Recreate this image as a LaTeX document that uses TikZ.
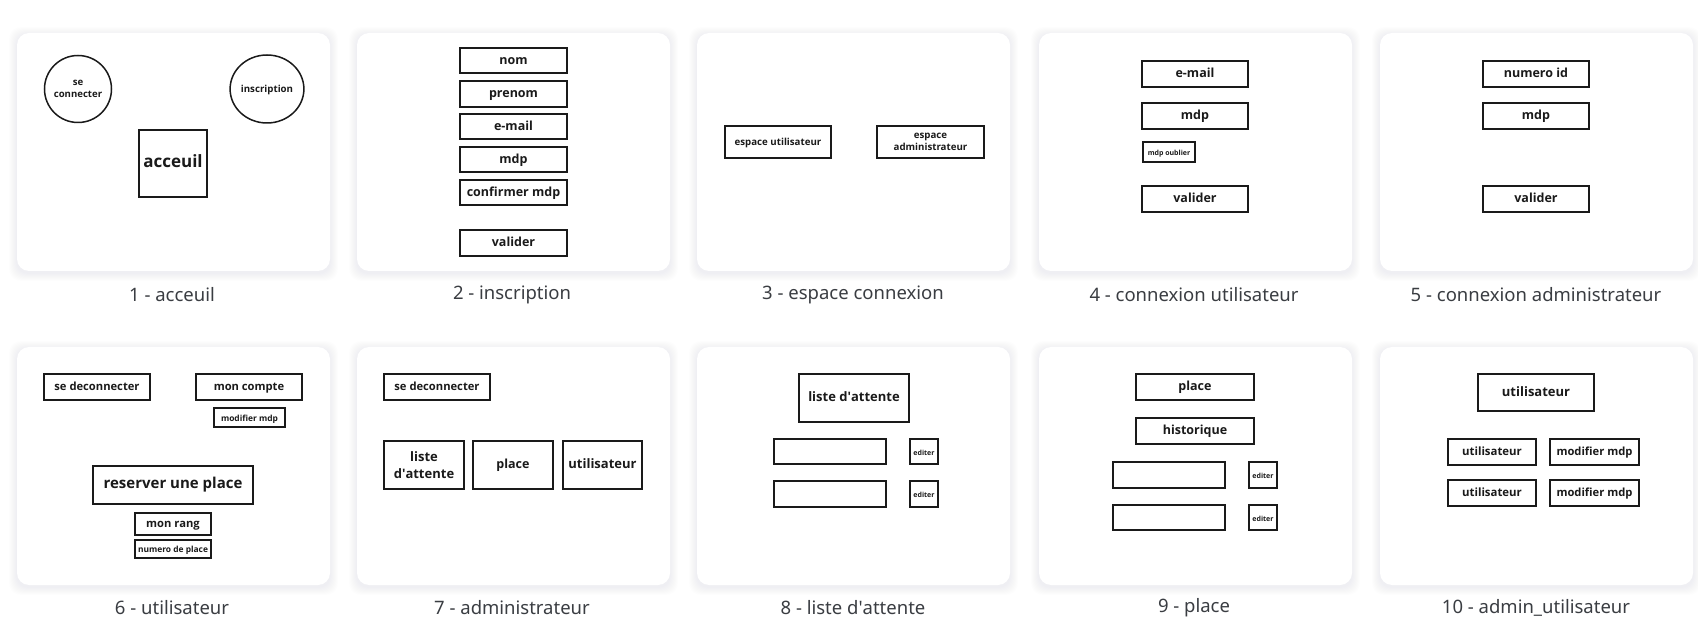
\documentclass[tikz,border=0pt]{standalone}
\usepackage{fontspec}
\setmainfont{Open Sans}
\newfontfamily\boxfont{Open Sans}
\newfontfamily\labfont{Noto Sans}
\usetikzlibrary{shapes.geometric}
\newcommand\F[1]{\boxfont\bfseries\fontsize{#1}{\fpeval{#1*1.25}}\selectfont}
\definecolor{ink}{HTML}{1A1A1A}
\definecolor{lab}{HTML}{3A3D42}
\definecolor{shad}{HTML}{8C93A3}
\tikzset{
  box/.style={draw=ink, line width=1.5pt, inner sep=0pt, align=center, text=ink},
  one/.style={text height=1.05em, text depth=0.3em},
  lbl/.style={font=\labfont\fontsize{18.5}{22}\selectfont, text=lab, inner sep=0pt},
}
% \bx[size]{name}{x1}{y1}{x2}{y2}{text}  (single line)
\newcommand\bx[7][12.5]{\node[box, one, font=\F{#1}, minimum width=#5-#3, minimum height=#6-#4] (#2) at ({(#3+#5)/2},{(#4+#6)/2}) {#7};}
% \bxm[size]{name}{x1}{y1}{x2}{y2}{text}  (several lines)
\newcommand\bxm[7][12.5]{\node[box, font=\F{#1}, minimum width=#5-#3, minimum height=#6-#4] (#2) at ({(#3+#5)/2},{(#4+#6)/2}) {#7};}
\newcommand\panel[2]{%
  \foreach \k in {1,...,8}{\fill[shad, opacity=0.01, rounded corners=12pt] ({#1-\k},{#2-\k+2}) rectangle ({#1+313+\k},{#2+238+\k+2});}
  \fill[white, rounded corners=12pt] (#1,#2) rectangle ({#1+313},{#2+238});
}
\begin{document}
\begin{tikzpicture}[x=1pt,y=-1pt]
\useasboundingbox (0,0) rectangle (1698,636);
\fill[white] (0,0) rectangle (1698,636);
% panels
\panel{17}{33}\panel{357}{33}\panel{697}{33}\panel{1039}{33}\panel{1380}{33}
\panel{17}{347}\panel{357}{347}\panel{697}{347}\panel{1039}{347}\panel{1380}{347}

% 1 - acceuil
\node[box, circle, minimum size=67, font=\F{9.6}] (p1con) at (78,89) {se\\connecter};
\node[box, one, ellipse, minimum width=72, minimum height=68, font=\F{9.7}] (p1ins) at (267,89) {inscription};
\bx[17]{p1acc}{139}{130}{207}{197}{acceuil}
\node[lbl] (l1) at (172,295) {1 - acceuil};

% 2 - inscription
\bx{p2nom}{460}{48}{567}{73}{nom}
\bx{p2pre}{460}{81}{567}{107}{prenom}
\bx{p2mail}{460}{114}{567}{139}{e-mail}
\bx{p2mdp}{460}{147}{567}{172}{mdp}
\bx{p2conf}{460}{180}{567}{205}{confirmer mdp}
\bx{p2val}{460}{230}{567}{256}{valider}
\node[lbl] (l2) at (512,295) {2 - inscription};

% 3 - espace connexion
\bx[9.7]{p3u}{725}{126}{831}{158}{espace utilisateur}
\bxm[9.7]{p3a}{877}{126}{984}{158}{espace\\administrateur}
\node[lbl] (l3) at (853,295) {3 - espace connexion};

% 4 - connexion utilisateur
\bx{p4mail}{1142}{61}{1248}{87}{e-mail}
\bx{p4mdp}{1142}{103}{1248}{129}{mdp}
\bx[7]{p4oub}{1143}{142}{1195}{162}{mdp oublier}
\bx{p4val}{1142}{186}{1248}{212}{valider}
\node[lbl] (l4) at (1194,295) {4 - connexion utilisateur};

% 5 - connexion administrateur
\bx{p5id}{1483}{61}{1589}{87}{numero id}
\bx{p5mdp}{1483}{103}{1589}{129}{mdp}
\bx{p5val}{1483}{186}{1589}{212}{valider}
\node[lbl] (l5) at (1536,295) {5 - connexion administrateur};

% 6 - utilisateur
\bx[11.2]{p6dec}{44}{374}{150}{400}{se deconnecter}
\bx[11.2]{p6cpt}{196}{374}{302}{400}{mon compte}
\bx[8.4]{p6mod}{214}{408}{285}{427}{modifier mdp}
\bx[15]{p6res}{93}{466}{253}{504}{reserver une place}
\bx[11.2]{p6rang}{135}{513}{211}{535}{mon rang}
\bx[8.4]{p6num}{135}{540}{211}{558}{numero de place}
\node[lbl] (l6) at (172,608) {6 - utilisateur};

% 7 - administrateur
\bx[11.2]{p7dec}{384}{374}{490}{400}{se deconnecter}
\bxm[13]{p7liste}{384}{441}{464}{489}{liste\\d\textquotesingle attente}
\bx[12.5]{p7place}{473}{441}{553}{489}{place}
\bx[13]{p7util}{563}{441}{642}{489}{utilisateur}
\node[lbl] (l7) at (512,608) {7 - administrateur};

% 8 - liste d'attente
\bx[13]{p8liste}{799}{374}{909}{422}{liste d\textquotesingle attente}
\bx{p8e1}{774}{439}{886}{464}{}
\bx[7]{p8ed1}{910}{439}{938}{464}{editer}
\bx{p8e2}{774}{481}{886}{507}{}
\bx[7]{p8ed2}{910}{481}{938}{507}{editer}
\node[lbl] (l8) at (853,608) {8 - liste d\textquotesingle attente};

% 9 - place
\bx{p9place}{1136}{374}{1254}{400}{place}
\bx{p9hist}{1136}{418}{1254}{444}{historique}
\bx{p9e1}{1113}{462}{1225}{488}{}
\bx[7]{p9ed1}{1249}{462}{1277}{488}{editer}
\bx{p9e2}{1113}{505}{1225}{530}{}
\bx[7]{p9ed2}{1249}{505}{1277}{530}{editer}
\node[lbl] (l9) at (1194,608) {9 - place};

% 10 - admin_utilisateur
\bx[13]{p10u}{1478}{374}{1594}{411}{utilisateur}
\bx[11.4]{p10u1}{1448}{439}{1536}{465}{utilisateur}
\bx[11.2]{p10m1}{1550}{439}{1639}{465}{modifier mdp}
\bx[11.4]{p10u2}{1448}{480}{1536}{506}{utilisateur}
\bx[11.2]{p10m2}{1550}{480}{1639}{506}{modifier mdp}
\node[lbl] (l10) at (1536,608) {10 - admin\_utilisateur};
\end{tikzpicture}
\end{document}
